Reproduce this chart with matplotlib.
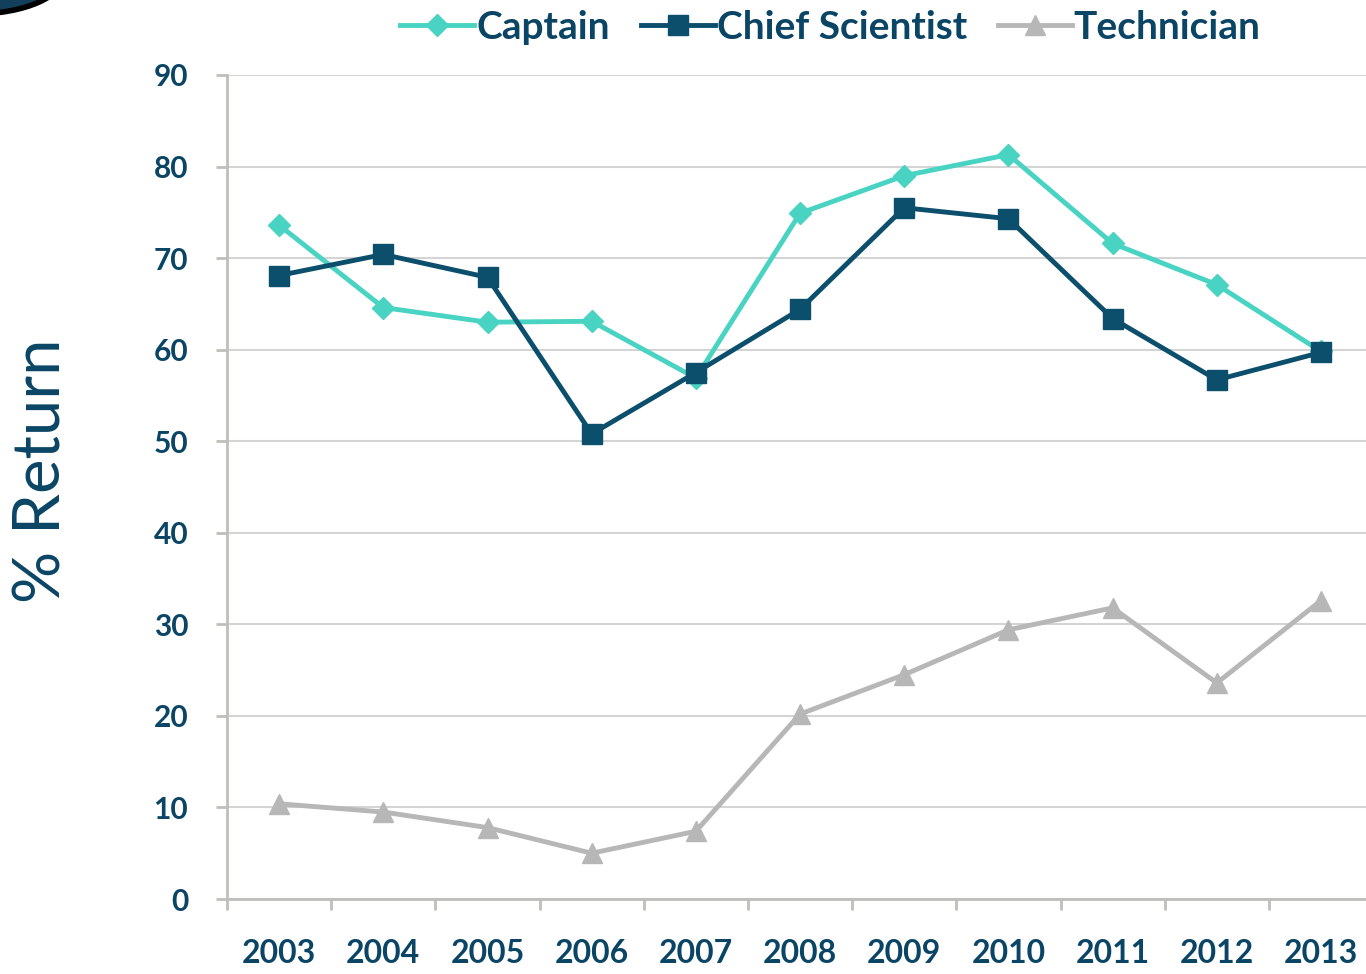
import matplotlib
matplotlib.use("Agg")
import matplotlib.pyplot as plt
from matplotlib.patches import Ellipse

years = ["2003", "2004", "2005", "2006", "2007", "2008", "2009", "2010", "2011", "2012", "2013"]
captain = [73.6, 64.6, 63.0, 63.1, 56.9, 74.9, 79.0, 81.3, 71.6, 67.1, 59.8]
chief_scientist = [68.1, 70.4, 67.9, 50.8, 57.5, 64.4, 75.5, 74.3, 63.4, 56.7, 59.7]
technician = [10.4, 9.5, 7.8, 5.0, 7.4, 20.2, 24.5, 29.4, 31.8, 23.6, 32.6]

text_col = "#0b4565"
grid_col = "#d4d4d4"
axis_col = "#bfbfba"

plt.rcParams["font.family"] = ["Lato", "DejaVu Sans"]

fig = plt.figure(figsize=(13.66, 9.74), dpi=100)
ax = fig.add_axes([0.1662, 0.077, 0.839, 0.846])

x = list(range(len(years)))
ax.plot(x, captain, color="#48d3c2", lw=3.5, marker="D", ms=11, label="Captain", zorder=3)
ax.plot(x, chief_scientist, color="#0b4f6c", lw=3.5, marker="s", ms=14, label="Chief Scientist", zorder=4)
ax.plot(x, technician, color="#b7b7b7", lw=3.5, marker="^", ms=14, label="Technician", zorder=2)

ax.set_xlim(-0.5, 10.5)
ax.set_ylim(0, 90)
ax.set_yticks(range(0, 91, 10))
ax.set_xticks(x)
ax.set_xticklabels(years)
ax.set_xticks([i - 0.5 for i in range(len(years) + 1)], minor=True)

ax.grid(axis="y", color=grid_col, lw=1.5, zorder=0)
for s in ["top", "right"]:
    ax.spines[s].set_visible(False)
for s in ["left", "bottom"]:
    ax.spines[s].set_color(axis_col)
    ax.spines[s].set_linewidth(2)

ax.tick_params(axis="x", which="major", length=0, pad=29, labelsize=23, labelcolor=text_col)
ax.tick_params(axis="x", which="minor", length=8, width=2, color=axis_col)
ax.tick_params(axis="y", length=8, width=2, color=axis_col, pad=20, labelsize=21.5, labelcolor=text_col)
for lab in ax.get_xticklabels() + ax.get_yticklabels():
    lab.set_fontweight("bold")

fig.text(0.031, 0.517, "% Return", rotation=90, fontsize=47, color=text_col,
         ha="center", va="center")

leg = fig.legend(loc="center", bbox_to_anchor=(0.608, 0.972), ncol=3, frameon=False,
                 fontsize=28, handlelength=1.9, handletextpad=0.05, columnspacing=0.8,
                 borderpad=0.1)
for t in leg.get_texts():
    t.set_color(text_col)
    t.set_fontweight("bold")

# bit of the logo peeking in at the top left corner
logo = Ellipse((-25, 1000), 180, 80, transform=None, facecolor="#123f5c",
               edgecolor="black", lw=4)
fig.patches.append(logo)

fig.savefig("out.png", dpi=100)
